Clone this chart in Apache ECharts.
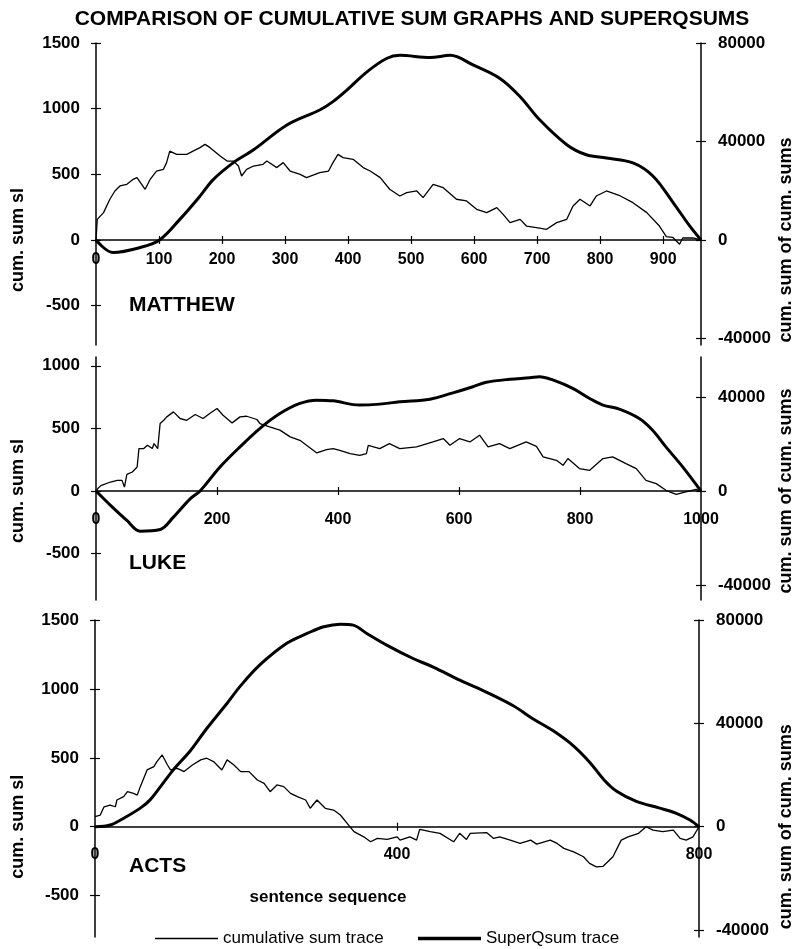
<!DOCTYPE html>
<html>
<head>
<meta charset="utf-8">
<script src="https://cdn.jsdelivr.net/npm/echarts@6/dist/echarts.min.js"></script>
<style>
  html, body { margin: 0; padding: 0; background: #fff; }
  #chart { width: 803px; height: 949px; }
</style>
</head>
<body>
<div id="chart"></div>
<script>
// --- data: [sentence, value] ---
const matthewCusum = [[0,0],[2,157],[12,208],[22,310],[30,373],[38,411],[49,424],[59,462],[65,475],[78,386],[86,462],[96,525],[107,538],[112,589],[117,677],[128,652],[144,652],[154,677],[165,703],[173,728],[181,703],[197,639],[208,601],[218,601],[226,563],[231,487],[239,538],[250,563],[265,576],[271,601],[287,551],[297,589],[308,525],[324,500],[334,475],[355,513],[369,525],[376,589],[384,652],[392,627],[408,614],[424,551],[435,525],[451,475],[466,386],[482,335],[493,360],[509,373],[519,322],[535,424],[551,398],[572,310],[588,297],[604,233],[620,208],[636,246],[646,195],[657,132],[673,157],[683,106],[699,94],[715,81],[731,132],[747,157],[757,259],[768,310],[784,259],[794,335],[810,373],[832,335],[852,284],[874,208],[894,106],[905,26],[915,20],[926,-33],[931,15],[947,15],[960,0]];
const matthewQsum = [[0,0],[27,-5100],[70,-3070],[101,0],[133,8360],[165,17800],[186,24500],[218,31400],[250,36600],[303,46700],[355,52800],[376,56200],[398,60900],[430,68300],[461,73700],[482,75000],[530,74100],[562,75000],[599,71000],[641,65600],[673,58200],[704,48800],[747,38700],[778,34600],[810,33300],[852,31300],[884,25900],[916,15100],[942,5700],[960,0]];

const lukeCusum = [[0,0],[3,20],[8,43],[24,72],[35,85],[43,85],[47,32],[51,133],[60,152],[68,192],[71,339],[79,339],[85,365],[93,339],[96,379],[102,339],[106,539],[112,565],[117,592],[128,632],[139,579],[150,565],[164,611],[177,579],[188,619],[200,659],[210,605],[225,544],[238,592],[249,597],[266,571],[271,539],[287,512],[304,486],[321,432],[337,405],[348,365],[365,304],[381,331],[392,339],[403,325],[420,299],[436,285],[447,299],[450,365],[469,339],[485,379],[502,339],[530,352],[557,392],[574,419],[585,365],[601,419],[618,392],[634,446],[648,352],[667,379],[684,339],[711,392],[728,357],[739,272],[761,245],[772,205],[780,259],[799,179],[816,165],[838,259],[854,272],[876,219],[893,179],[909,85],[926,59],[942,6],[959,-26],[975,-6],[992,13],[1000,0]];
const lukeQsum = [[0,0],[24,-6100],[51,-12500],[73,-17100],[106,-16400],[128,-11100],[156,-3250],[172,0],[205,10250],[238,18800],[274,27300],[304,33000],[337,37300],[365,38700],[392,38400],[436,36600],[469,37000],[502,38000],[552,39100],[590,41800],[623,44400],[645,46300],[684,47600],[717,48200],[733,48700],[755,47300],[788,43700],[816,39400],[838,36600],[865,34900],[898,30900],[920,25900],[942,18800],[970,10200],[1000,0]];

const actsCusum = [[0,73],[2,73],[7,85],[12,145],[20,157],[27,145],[29,194],[38,218],[43,254],[51,242],[56,230],[60,291],[69,412],[78,436],[82,472],[89,521],[96,448],[100,412],[109,424],[118,400],[129,448],[140,485],[148,497],[157,473],[168,412],[175,485],[184,448],[193,400],[204,400],[215,339],[224,315],[232,254],[241,303],[250,291],[259,242],[268,218],[279,194],[285,134],[294,194],[305,134],[316,121],[325,85],[334,25],[343,-36],[356,-73],[365,-109],[374,-85],[387,-92],[400,-73],[404,-97],[417,-73],[426,-97],[430,-19],[444,-36],[457,-48],[475,-109],[483,-48],[492,-92],[497,-48],[519,-43],[528,-85],[536,-73],[550,-97],[563,-121],[577,-97],[585,-126],[603,-97],[612,-121],[621,-157],[634,-182],[647,-218],[655,-266],[664,-291],[673,-287],[686,-218],[697,-97],[706,-73],[720,-48],[730,0],[739,-24],[752,-36],[766,-24],[775,-85],[783,-97],[792,-73],[800,0]];
const actsQsum = [[0,0],[20,660],[38,3300],[60,7200],[73,10400],[87,15600],[104,22100],[126,29300],[148,38000],[175,47800],[193,54600],[219,62800],[254,71000],[281,74800],[303,77400],[325,78400],[342,78000],[360,74800],[387,70200],[422,65000],[448,61800],[484,56600],[519,52000],[554,46800],[581,41600],[607,37100],[634,31200],[656,24700],[674,18200],[691,13700],[717,9800],[748,7200],[770,5200],[788,2600],[800,0]];

const bookNames = ['MATTHEW', 'LUKE', 'ACTS'];
const xMaxes = [960, 1000, 800];
const xLabelValues = [[0,100,200,300,400,500,600,700,800,900], [0,200,400,600,800,1000], [0,400,800]];
const xTickValues = [[100,200,300,400,500,600,700,800,900], [200,400,600,800], [400]];
const leftRanges = [[-800, 1500], [-870, 1070], [-800, 1500]];
const leftTicks = [[-500,0,500,1000,1500], [-500,0,500,1000], [-500,0,500,1000,1500]];
const rightTicks = [[-40000,0,40000,80000], [-40000,0,40000], [-40000,0,40000,80000]];
const cusums = [matthewCusum, lukeCusum, actsCusum];
const qsums = [matthewQsum, lukeQsum, actsQsum];

const SCALE = 80000 / 1500; // right axis units per left axis unit
const FONT = '"Liberation Sans", Arial, sans-serif';

// layout of the three panels
const grids = [
  { left: 96, right: 102, top: 43, height: 302 },
  { left: 96, right: 102, top: 357, height: 243 },
  { left: 95, right: 104, top: 620, height: 317 }
];
const xLabelMargins = [12, 21, 20];
const nameY = [305, 563, 866];

const black = '#000';
const xLabelStyle = { color: black, fontFamily: FONT, fontWeight: 'bold', fontSize: 16 };
const yLabelStyle = { color: black, fontFamily: FONT, fontWeight: 'bold', fontSize: 17 };

const xAxes = [];
const yAxes = [];
const series = [];
const zeroY = [];

grids.forEach(function (g, p) {
  const lmin = leftRanges[p][0], lmax = leftRanges[p][1];
  // lift the x axis from the grid bottom up to the zero line
  const lift = g.height * (0 - lmin) / (lmax - lmin);
  zeroY.push(g.top + g.height - lift);

  xAxes.push({
    type: 'value', gridIndex: p, min: 0, max: xMaxes[p], position: 'bottom', offset: -lift,
    axisLine: { onZero: false, lineStyle: { color: black, width: 1.5 } },
    axisTick: { show: true, length: 4, customValues: xTickValues[p], lineStyle: { color: black, width: 1.2 } },
    axisLabel: Object.assign({ margin: xLabelMargins[p], customValues: xLabelValues[p], formatter: v => String(v) }, xLabelStyle),
    splitLine: { show: false }
  });
  xAxes.push({
    type: 'value', gridIndex: p, min: 0, max: xMaxes[p], position: 'bottom', offset: -lift,
    axisLine: { show: false, onZero: false },
    axisTick: { show: true, inside: true, length: 4, customValues: xTickValues[p], lineStyle: { color: black, width: 1.2 } },
    axisLabel: { show: false },
    splitLine: { show: false }
  });

  const sides = [
    { pos: 'left', min: lmin, max: lmax, ticks: leftTicks[p], margin: 16 },
    { pos: 'right', min: lmin * SCALE, max: lmax * SCALE, ticks: rightTicks[p], margin: 17 }
  ];
  sides.forEach(function (s) {
    yAxes.push({
      type: 'value', gridIndex: p, position: s.pos, min: s.min, max: s.max,
      axisLine: { show: true, onZero: false, lineStyle: { color: black, width: 1.5 } },
      axisTick: { show: true, length: 5, customValues: s.ticks, lineStyle: { color: black, width: 1.2 } },
      axisLabel: Object.assign({ margin: s.margin, customValues: s.ticks, formatter: v => String(v) }, yLabelStyle),
      splitLine: { show: false }
    });
    yAxes.push({
      type: 'value', gridIndex: p, position: s.pos, min: s.min, max: s.max,
      axisLine: { show: false, onZero: false },
      axisTick: { show: true, inside: true, length: 5, customValues: s.ticks, lineStyle: { color: black, width: 1.2 } },
      axisLabel: { show: false },
      splitLine: { show: false }
    });
  });

  series.push({
    name: 'cumulative sum trace', type: 'line', xAxisIndex: 2 * p, yAxisIndex: 4 * p,
    data: cusums[p], symbol: 'none', showSymbol: false,
    lineStyle: { color: black, width: 1.3 }, itemStyle: { color: black }, z: 3
  });
  series.push({
    name: 'SuperQsum trace', type: 'line', xAxisIndex: 2 * p, yAxisIndex: 4 * p + 2,
    data: qsums[p], symbol: 'none', showSymbol: false, smooth: 0.35,
    lineStyle: { color: black, width: 3 }, itemStyle: { color: black }, z: 4
  });
});

const graphics = [];
grids.forEach(function (g, p) {
  graphics.push({
    type: 'text', x: 18, y: zeroY[p], rotation: Math.PI / 2,
    style: { text: 'cum. sum sl', fill: black, font: 'bold 18px ' + FONT, textAlign: 'center', textVerticalAlign: 'middle' }
  });
  graphics.push({
    type: 'text', x: 786, y: zeroY[p], rotation: Math.PI / 2,
    style: { text: 'cum. sum of cum. sums', fill: black, font: 'bold 18px ' + FONT, textAlign: 'center', textVerticalAlign: 'middle' }
  });
  graphics.push({
    type: 'text', x: 129, y: nameY[p],
    style: { text: bookNames[p], fill: black, font: 'bold 21px ' + FONT, textAlign: 'left', textVerticalAlign: 'middle' }
  });
});
graphics.push({
  type: 'text', x: 328, y: 897,
  style: { text: 'sentence sequence', fill: black, font: 'bold 17px ' + FONT, textAlign: 'center', textVerticalAlign: 'middle' }
});

const legendBase = {
  top: 925, itemWidth: 63, itemGap: 10, icon: 'rect',
  textStyle: { color: black, fontFamily: FONT, fontSize: 17 },
  selectedMode: false
};

const chart = echarts.init(document.getElementById('chart'), null, { renderer: 'canvas' });
chart.setOption({
  backgroundColor: '#fff',
  animation: false,
  title: {
    text: 'COMPARISON OF CUMULATIVE SUM GRAPHS AND SUPERQSUMS',
    left: 407, top: 4, textAlign: 'center',
    textStyle: { color: black, fontFamily: FONT, fontWeight: 'bold', fontSize: 21 }
  },
  legend: [
    Object.assign({ left: 150, itemHeight: 1.5, data: ['cumulative sum trace'] }, legendBase),
    Object.assign({ left: 413, itemHeight: 3.5, data: ['SuperQsum trace'] }, legendBase)
  ],
  grid: grids,
  xAxis: xAxes,
  yAxis: yAxes,
  series: series,
  graphic: graphics
});
window.onresize = function () { chart.resize(); };
</script>
</body>
</html>
